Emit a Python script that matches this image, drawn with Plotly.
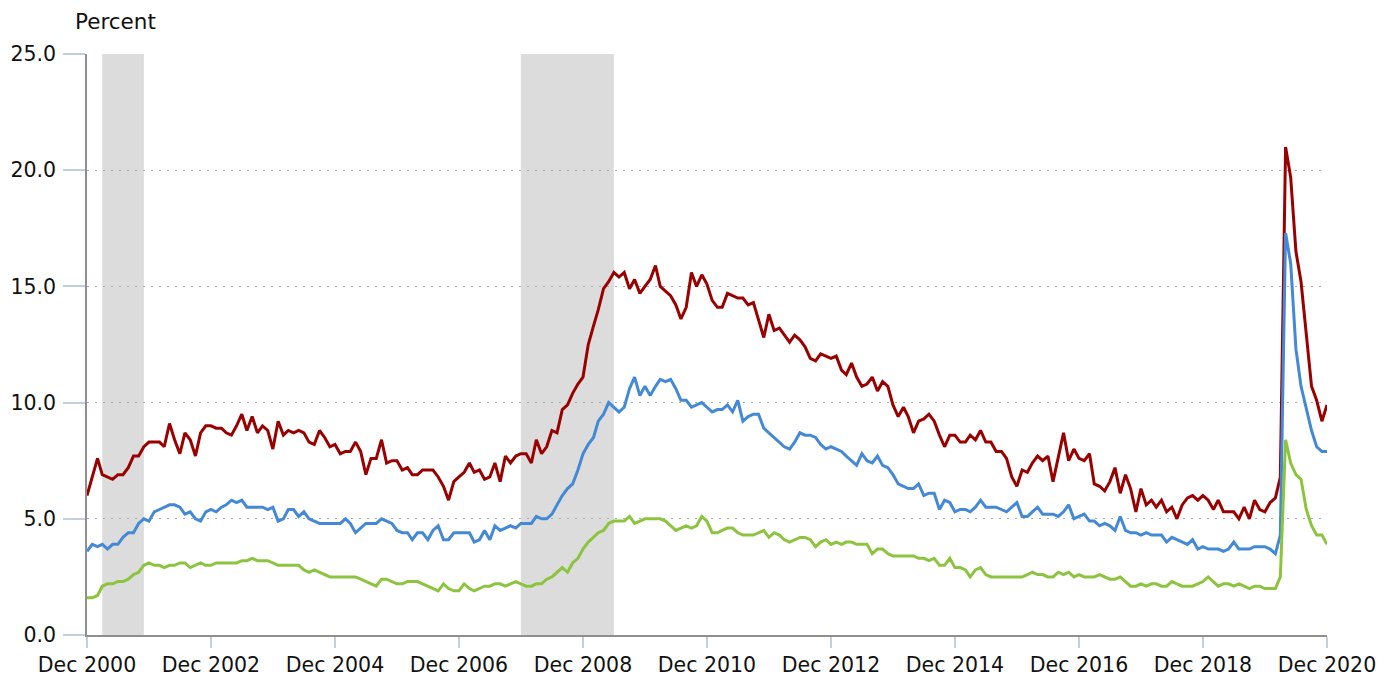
import pandas as pd
import plotly.graph_objects as go

# Monthly, Dec 2000 .. Dec 2020
months = pd.date_range("2000-12-01", "2020-12-01", freq="MS")

less_than_hs = [
    6.0, 6.8, 7.6, 6.9, 6.8, 6.7, 6.9, 6.9, 7.2, 7.7,
    7.7, 8.1, 8.3, 8.3, 8.3, 8.1, 9.1, 8.4, 7.8, 8.7,
    8.4, 7.7, 8.7, 9.0, 9.0, 8.9, 8.9, 8.7, 8.6, 9.0,
    9.5, 8.8, 9.4, 8.7, 9.0, 8.8, 8.0, 9.2, 8.6, 8.8,
    8.7, 8.8, 8.7, 8.3, 8.2, 8.8, 8.5, 8.1, 8.2, 7.8,
    7.9, 7.9, 8.3, 7.9, 6.9, 7.6, 7.6, 8.4, 7.4, 7.5,
    7.5, 7.1, 7.2, 6.9, 6.9, 7.1, 7.1, 7.1, 6.8, 6.4,
    5.8, 6.6, 6.8, 7.0, 7.4, 7.0, 7.1, 6.7, 6.8, 7.4,
    6.6, 7.7, 7.4, 7.7, 7.8, 7.8, 7.4, 8.4, 7.8, 8.1,
    8.8, 8.7, 9.7, 9.9, 10.4, 10.8, 11.1, 12.5, 13.3, 14.0,
    14.9, 15.2, 15.6, 15.4, 15.6, 14.9, 15.3, 14.7, 15.0, 15.3,
    15.9, 15.0, 14.8, 14.6, 14.2, 13.6, 14.1, 15.6, 15.0, 15.5,
    15.1, 14.4, 14.1, 14.1, 14.7, 14.6, 14.5, 14.5, 14.2, 14.3,
    13.6, 12.8, 13.8, 13.1, 13.2, 12.9, 12.6, 12.9, 12.7, 12.4,
    11.9, 11.8, 12.1, 12.0, 11.9, 12.0, 11.4, 11.2, 11.7, 11.1,
    10.7, 10.8, 11.1, 10.5, 10.9, 10.7, 9.9, 9.4, 9.8, 9.4,
    8.7, 9.2, 9.3, 9.5, 9.2, 8.6, 8.1, 8.6, 8.6, 8.3,
    8.3, 8.6, 8.4, 8.8, 8.3, 8.3, 7.9, 7.9, 7.6, 6.8,
    6.4, 7.1, 7.0, 7.4, 7.7, 7.5, 7.7, 6.6, 7.6, 8.7,
    7.5, 8.0, 7.6, 7.5, 7.8, 6.5, 6.4, 6.2, 6.6, 7.2,
    6.1, 6.9, 6.3, 5.3, 6.3, 5.6, 5.8, 5.5, 5.8, 5.3,
    5.5, 5.0, 5.6, 5.9, 6.0, 5.8, 6.0, 5.8, 5.4, 5.8,
    5.3, 5.3, 5.3, 5.0, 5.5, 5.0, 5.8, 5.4, 5.3, 5.7,
    5.9, 6.8, 21.0, 19.7, 16.5, 15.2, 12.9, 10.7, 10.1, 9.2,
    9.9,
]

high_school = [
    3.6, 3.9, 3.8, 3.9, 3.7, 3.9, 3.9, 4.2, 4.4, 4.4,
    4.8, 5.0, 4.9, 5.3, 5.4, 5.5, 5.6, 5.6, 5.5, 5.2,
    5.3, 5.0, 4.9, 5.3, 5.4, 5.3, 5.5, 5.6, 5.8, 5.7,
    5.8, 5.5, 5.5, 5.5, 5.5, 5.4, 5.5, 4.9, 5.0, 5.4,
    5.4, 5.1, 5.3, 5.0, 4.9, 4.8, 4.8, 4.8, 4.8, 4.8,
    5.0, 4.8, 4.4, 4.6, 4.8, 4.8, 4.8, 5.0, 4.9, 4.8,
    4.5, 4.4, 4.4, 4.1, 4.4, 4.4, 4.1, 4.5, 4.7, 4.1,
    4.1, 4.4, 4.4, 4.4, 4.4, 4.0, 4.1, 4.5, 4.1, 4.7,
    4.5, 4.6, 4.7, 4.6, 4.8, 4.8, 4.8, 5.1, 5.0, 5.0,
    5.2, 5.6, 6.0, 6.3, 6.5, 7.1, 7.8, 8.2, 8.5, 9.2,
    9.5, 10.0, 9.8, 9.6, 9.8, 10.6, 11.1, 10.3, 10.7, 10.3,
    10.7, 11.0, 10.9, 11.0, 10.6, 10.1, 10.1, 9.8, 9.9, 10.0,
    9.8, 9.6, 9.7, 9.7, 9.9, 9.6, 10.1, 9.2, 9.4, 9.5,
    9.5, 8.9, 8.7, 8.5, 8.3, 8.1, 8.0, 8.3, 8.7, 8.6,
    8.6, 8.5, 8.2, 8.0, 8.1, 8.0, 7.9, 7.7, 7.5, 7.3,
    7.8, 7.5, 7.4, 7.7, 7.3, 7.2, 6.9, 6.5, 6.4, 6.3,
    6.3, 6.5, 6.0, 6.1, 6.1, 5.4, 5.8, 5.7, 5.3, 5.4,
    5.4, 5.3, 5.5, 5.8, 5.5, 5.5, 5.5, 5.4, 5.3, 5.5,
    5.7, 5.1, 5.1, 5.3, 5.5, 5.2, 5.2, 5.2, 5.1, 5.3,
    5.6, 5.0, 5.1, 5.2, 4.9, 4.9, 4.7, 4.8, 4.7, 4.5,
    5.1, 4.5, 4.4, 4.4, 4.3, 4.4, 4.3, 4.3, 4.3, 4.0,
    4.2, 4.1, 4.0, 3.9, 4.1, 3.7, 3.8, 3.7, 3.7, 3.7,
    3.6, 3.7, 4.0, 3.7, 3.7, 3.7, 3.8, 3.8, 3.8, 3.7,
    3.5, 4.3, 17.3, 16.0, 12.3, 10.7, 9.7, 8.8, 8.1, 7.9,
    7.9,
]

bachelors = [
    1.6, 1.6, 1.7, 2.1, 2.2, 2.2, 2.3, 2.3, 2.4, 2.6,
    2.7, 3.0, 3.1, 3.0, 3.0, 2.9, 3.0, 3.0, 3.1, 3.1,
    2.9, 3.0, 3.1, 3.0, 3.0, 3.1, 3.1, 3.1, 3.1, 3.1,
    3.2, 3.2, 3.3, 3.2, 3.2, 3.2, 3.1, 3.0, 3.0, 3.0,
    3.0, 3.0, 2.8, 2.7, 2.8, 2.7, 2.6, 2.5, 2.5, 2.5,
    2.5, 2.5, 2.5, 2.4, 2.3, 2.2, 2.1, 2.4, 2.4, 2.3,
    2.2, 2.2, 2.3, 2.3, 2.3, 2.2, 2.1, 2.0, 1.9, 2.2,
    2.0, 1.9, 1.9, 2.2, 2.0, 1.9, 2.0, 2.1, 2.1, 2.2,
    2.2, 2.1, 2.2, 2.3, 2.2, 2.1, 2.1, 2.2, 2.2, 2.4,
    2.5, 2.7, 2.9, 2.7, 3.1, 3.3, 3.7, 4.0, 4.2, 4.4,
    4.5, 4.8, 4.9, 4.9, 4.9, 5.1, 4.8, 4.9, 5.0, 5.0,
    5.0, 5.0, 4.9, 4.7, 4.5, 4.6, 4.7, 4.6, 4.7, 5.1,
    4.9, 4.4, 4.4, 4.5, 4.6, 4.6, 4.4, 4.3, 4.3, 4.3,
    4.4, 4.5, 4.2, 4.4, 4.3, 4.1, 4.0, 4.1, 4.2, 4.2,
    4.1, 3.8, 4.0, 4.1, 3.9, 4.0, 3.9, 4.0, 4.0, 3.9,
    3.9, 3.9, 3.5, 3.7, 3.7, 3.5, 3.4, 3.4, 3.4, 3.4,
    3.4, 3.3, 3.3, 3.2, 3.3, 3.0, 3.0, 3.3, 2.9, 2.9,
    2.8, 2.5, 2.8, 2.9, 2.6, 2.5, 2.5, 2.5, 2.5, 2.5,
    2.5, 2.5, 2.6, 2.7, 2.6, 2.6, 2.5, 2.5, 2.7, 2.6,
    2.7, 2.5, 2.6, 2.5, 2.5, 2.5, 2.6, 2.5, 2.4, 2.4,
    2.5, 2.3, 2.1, 2.1, 2.2, 2.1, 2.2, 2.2, 2.1, 2.1,
    2.3, 2.2, 2.1, 2.1, 2.1, 2.2, 2.3, 2.5, 2.3, 2.1,
    2.2, 2.2, 2.1, 2.2, 2.1, 2.0, 2.1, 2.1, 2.0, 2.0,
    2.0, 2.5, 8.4, 7.4, 6.9, 6.7, 5.4, 4.7, 4.3, 4.3,
    3.9,
]

recessions = [("2001-03-01", "2001-11-01"), ("2007-12-01", "2009-06-01")]

tick_dates = pd.date_range("2000-12-01", "2020-12-01", freq="24MS")
tick_labels = [f"Dec {d.year}" for d in tick_dates]
y_ticks = [0, 5, 10, 15, 20, 25]
y_labels = ["0.0", "5.0", "10.0", "15.0", "20.0", "25.0"]

assert len(less_than_hs) == len(months) == len(high_school) == len(bachelors)

FONT = "DejaVu Sans"
FS = 20.5

fig = go.Figure()
series = [
    (less_than_hs, "#990000"),
    (high_school, "#4489d6"),
    (bachelors, "#8cc43f"),
]
for vals, col in series:
    fig.add_trace(go.Scatter(
        x=months, y=vals, mode="lines",
        line=dict(color=col, width=3),
        showlegend=False, hoverinfo="x+y",
    ))

for s, e in recessions:
    fig.add_shape(type="rect", xref="x", yref="y", x0=s, x1=e, y0=0, y1=25,
                  fillcolor="#dcdcdc", line=dict(width=0), layer="below")

fig.add_annotation(text="Percent", xref="paper", yref="paper", x=0, y=1,
                   xanchor="left", yanchor="middle", xshift=-14, yshift=33,
                   showarrow=False, font=dict(family=FONT, size=21.5, color="#111"))

# page body has an 8px margin (left/top), so the figure is 8px smaller than the window
fig.update_layout(
    width=1380, height=670,
    margin=dict(l=79, r=61, t=46, b=43),
    paper_bgcolor="white", plot_bgcolor="white",
    font=dict(family=FONT, size=FS, color="#111"),
)
fig.update_xaxes(
    type="date", range=[months[0], months[-1]], automargin=False,
    tickvals=list(tick_dates), ticktext=tick_labels,
    showgrid=False, zeroline=False,
    showline=True, linecolor="#8f8f8f", linewidth=1.5,
    ticks="outside", ticklen=11, tickcolor="#c3cfdc", tickwidth=1.5,
    ticklabelstandoff=0,
    tickfont=dict(family=FONT, size=FS, color="#111"),
)
fig.update_yaxes(
    range=[0, 25], tickvals=y_ticks, ticktext=y_labels, automargin=False,
    showgrid=True, gridcolor="#aaaaaa", gridwidth=1.3, griddash="2px,6px",
    zeroline=False,
    showline=True, linecolor="#8f8f8f", linewidth=1.5,
    ticks="outside", ticklen=22, tickcolor="#c3cfdc", tickwidth=1.5,
    ticklabelstandoff=3,
    tickfont=dict(family=FONT, size=FS, color="#111"),
)

fig.write_html("out.html")
